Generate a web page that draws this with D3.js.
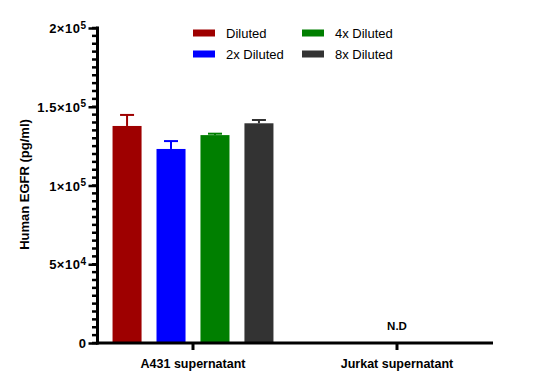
<!DOCTYPE html>
<html>
<head>
<meta charset="utf-8">
<script src="https://cdn.jsdelivr.net/npm/d3@7"></script>
<style>
  body { margin: 0; background: #fff; }
  svg { display: block; font-family: "Liberation Sans", Arial, sans-serif; }
</style>
</head>
<body>
<svg id="chart" width="538" height="389"></svg>
<script>
// groups on the x axis
const groups = ['A431 supernatant', 'Jurkat supernatant'];
// dilution series
const series = ['Diluted', '2x Diluted', '4x Diluted', '8x Diluted'];
const seriesColors = ['#9e0000', '#0000ff', '#007f00', '#333333'];
// mean values (pg/ml) for A431; Jurkat not detected
const a431Means = [137800, 123200, 132000, 139500];
const a431Errors = [7000, 5000, 900, 2100];
// y ticks
const yTickValues = [0, 50000, 100000, 150000, 200000];
const yTickBase = ['0', '5×10', '1×10', '1.5×10', '2×10'];
const yTickExp = ['', '4', '5', '5', '5'];

const data = series.map((s, i) => ({ group: groups[0], series: s, value: a431Means[i], err: a431Errors[i] }));

const svg = d3.select('#chart');
const axisX = 97.5, baseY = 343, topY = 28, rightX = 493;

const x = d3.scaleBand().domain(groups).range([91, 499]);
const xInner = d3.scaleBand().domain(series).range([0, x.bandwidth()])
    .paddingInner(0.34).paddingOuter(0.49);
const y = d3.scaleLinear().domain([0, 200000]).range([baseY, topY]);
const color = d3.scaleOrdinal().domain(series).range(seriesColors);

// bars
svg.append('g').selectAll('rect')
    .data(data)
    .enter().append('rect')
    .attr('x', d => x(d.group) + xInner(d.series))
    .attr('y', d => y(d.value))
    .attr('width', xInner.bandwidth())
    .attr('height', d => y(0) - y(d.value))
    .attr('fill', d => color(d.series));

// error bars (upper only)
const eb = svg.append('g').selectAll('g')
    .data(data)
    .enter().append('g')
    .attr('stroke', d => color(d.series))
    .attr('stroke-width', 2);
eb.append('line')
    .attr('x1', d => x(d.group) + xInner(d.series) + xInner.bandwidth() / 2)
    .attr('x2', d => x(d.group) + xInner(d.series) + xInner.bandwidth() / 2)
    .attr('y1', d => y(d.value))
    .attr('y2', d => y(d.value + d.err));
eb.append('line')
    .attr('x1', d => x(d.group) + xInner(d.series) + xInner.bandwidth() / 2 - 7)
    .attr('x2', d => x(d.group) + xInner(d.series) + xInner.bandwidth() / 2 + 7)
    .attr('y1', d => y(d.value + d.err))
    .attr('y2', d => y(d.value + d.err));

// N.D label
svg.append('text')
    .attr('x', x(groups[1]) + x.bandwidth() / 2)
    .attr('y', 329.5)
    .attr('text-anchor', 'middle')
    .style('font-size', '11.5px')
    .style('font-weight', 'bold')
    .text('N.D');

// y axis minor ticks
const minor = d3.range(0, 200001, 5000);
svg.append('g').selectAll('line')
    .data(minor)
    .enter().append('line')
    .attr('x1', axisX - 5.5)
    .attr('x2', axisX)
    .attr('y1', d => y(d))
    .attr('y2', d => y(d))
    .attr('stroke', '#000')
    .attr('stroke-width', 2.5);

// y axis
const yAxis = svg.append('g')
    .attr('transform', `translate(${axisX},0)`)
    .call(d3.axisLeft(y).tickValues(yTickValues).tickSize(9).tickSizeOuter(0).tickFormat(''));
yAxis.select('.domain').remove();
yAxis.selectAll('.tick line').attr('stroke-width', 2.5);
yAxis.selectAll('.tick').each(function (d, i) {
    const t = d3.select(this).append('text')
        .attr('x', -11)
        .attr('dy', '0.36em')
        .attr('text-anchor', 'end')
        .attr('fill', '#000')
        .style('font-size', '13px')
        .style('font-weight', 'bold')
        .style('letter-spacing', '0.5px')
        .style('font-family', '"Liberation Sans", Arial, sans-serif');
    t.append('tspan').text(yTickBase[i]);
    if (yTickExp[i]) {
        t.append('tspan').attr('dy', '-0.45em').style('font-size', '10px').text(yTickExp[i]);
    }
});
svg.append('line')
    .attr('x1', axisX).attr('x2', axisX)
    .attr('y1', topY - 1.5).attr('y2', baseY + 1.5)
    .attr('stroke', '#000').attr('stroke-width', 3);

// x axis
const xAxis = svg.append('g')
    .attr('transform', `translate(0,${baseY})`)
    .call(d3.axisBottom(x).tickSize(7).tickSizeOuter(0).tickPadding(9));
xAxis.select('.domain').remove();
xAxis.selectAll('.tick line').attr('stroke-width', 3);
xAxis.selectAll('.tick text')
    .attr('fill', '#000')
    .style('font-size', '12.5px')
    .style('font-weight', 'bold')
    .style('font-family', '"Liberation Sans", Arial, sans-serif');
svg.append('line')
    .attr('x1', axisX - 1.5).attr('x2', rightX)
    .attr('y1', baseY).attr('y2', baseY)
    .attr('stroke', '#000').attr('stroke-width', 3);

// y title
svg.append('text')
    .attr('transform', `translate(29,${184.5}) rotate(-90)`)
    .attr('text-anchor', 'middle')
    .style('font-size', '13px')
    .style('font-weight', 'bold')
    .text('Human EGFR (pg/ml)');

// legend
const legend = svg.append('g').selectAll('g')
    .data(series)
    .enter().append('g')
    .attr('transform', (d, i) => `translate(${i < 2 ? 193 : 302},${i % 2 === 0 ? 33 : 54})`);
legend.append('rect')
    .attr('x', 0).attr('y', -3.5)
    .attr('width', 22).attr('height', 7)
    .attr('fill', d => color(d));
legend.append('text')
    .attr('x', 33)
    .attr('dy', '0.36em')
    .style('font-size', '13px')
    .text(d => d);
</script>
</body>
</html>
